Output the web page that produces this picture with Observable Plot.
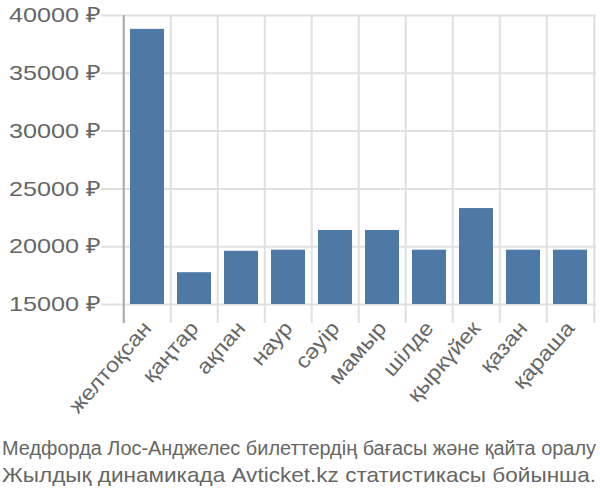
<!DOCTYPE html>
<html>
<head>
<meta charset="utf-8">
<script src="https://cdn.jsdelivr.net/npm/d3@7"></script>
<script src="https://cdn.jsdelivr.net/npm/@observablehq/plot@0.6"></script>
<style>
  body { margin: 0; background: #fff; }
  svg { display: block; }
</style>
</head>
<body>
<div id="chart"></div>
<svg id="caption" width="600" height="70" font-family="Liberation Sans, sans-serif" fill="#666"></svg>
<script>
const months = ["желтоқсан", "қаңтар", "ақпан", "наур", "сәуір", "мамыр", "шілде", "қыркүйек", "қазан", "қараша"];
const prices = [38800, 17750, 19600, 19700, 21400, 21400, 19700, 23300, 19700, 19700];
const yTicks = [15000, 20000, 25000, 30000, 35000, 40000];
const yBase = 15000;
const captionLines = [
  "Медфорда Лос-Анджелес билеттердің бағасы және қайта оралу",
  "Жылдық динамикада Avticket.kz статистикасы бойынша."
];

const data = months.map((m, i) => ({month: m, price: prices[i]}));
const step = 475 / months.length;

const chart = Plot.plot({
  width: 600,
  height: 430,
  marginLeft: 121,
  marginRight: 4,
  marginTop: 15,
  marginBottom: 126,
  style: {fontFamily: "Liberation Sans, sans-serif", background: "#fff"},
  x: {domain: months, paddingInner: 0.27, paddingOuter: 0.135, label: null},
  y: {domain: [yBase, 40000], label: null},
  marks: [
    Plot.ruleY(yTicks, {stroke: "#e0e0e0", strokeWidth: 2, insetLeft: -20}),
    Plot.ruleX(months, {x: d => d, stroke: "#e0e0e0", strokeWidth: 2, dx: -step / 2, insetBottom: -19}),
    Plot.ruleX([months[months.length - 1]], {x: d => d, stroke: "#e0e0e0", strokeWidth: 2, dx: step / 2, insetBottom: -19}),
    Plot.ruleX([months[0]], {x: d => d, stroke: "#aaa", strokeWidth: 2, dx: -step / 2, insetBottom: -19}),
    Plot.barY(data, {x: "month", y1: yBase, y2: "price", fill: "#4e79a7"}),
    Plot.axisY({ticks: yTicks, tickSize: 0, tickPadding: 21, tickFormat: d => d + " ₽", fill: "#666", fontSize: 21, label: null}),
    Plot.axisX({tickSize: 0, tickPadding: 20, tickRotate: -49, fill: "#666", fontSize: 21, label: null})
  ]
});
document.getElementById("chart").appendChild(chart);

// widen axis labels to match the reference's wider lettering
d3.select(chart).selectAll('g[aria-label="y-axis tick label"] text').each(function() {
  const len = this.getComputedTextLength();
  d3.select(this).attr("textLength", len * 1.2).attr("lengthAdjust", "spacingAndGlyphs");
});
d3.select(chart).selectAll('g[aria-label="x-axis tick label"] text').each(function() {
  const len = this.getComputedTextLength();
  d3.select(this).attr("textLength", len * 1.12).attr("lengthAdjust", "spacingAndGlyphs");
});

const cap = d3.select("#caption");
captionLines.forEach((t, i) => {
  cap.append("text").attr("x", 2).attr("y", 25 + i * 27)
    .attr("font-size", i === 0 ? 20 : 21)
    .attr("textLength", 594).attr("lengthAdjust", "spacingAndGlyphs").text(t);
});
</script>
</body>
</html>
